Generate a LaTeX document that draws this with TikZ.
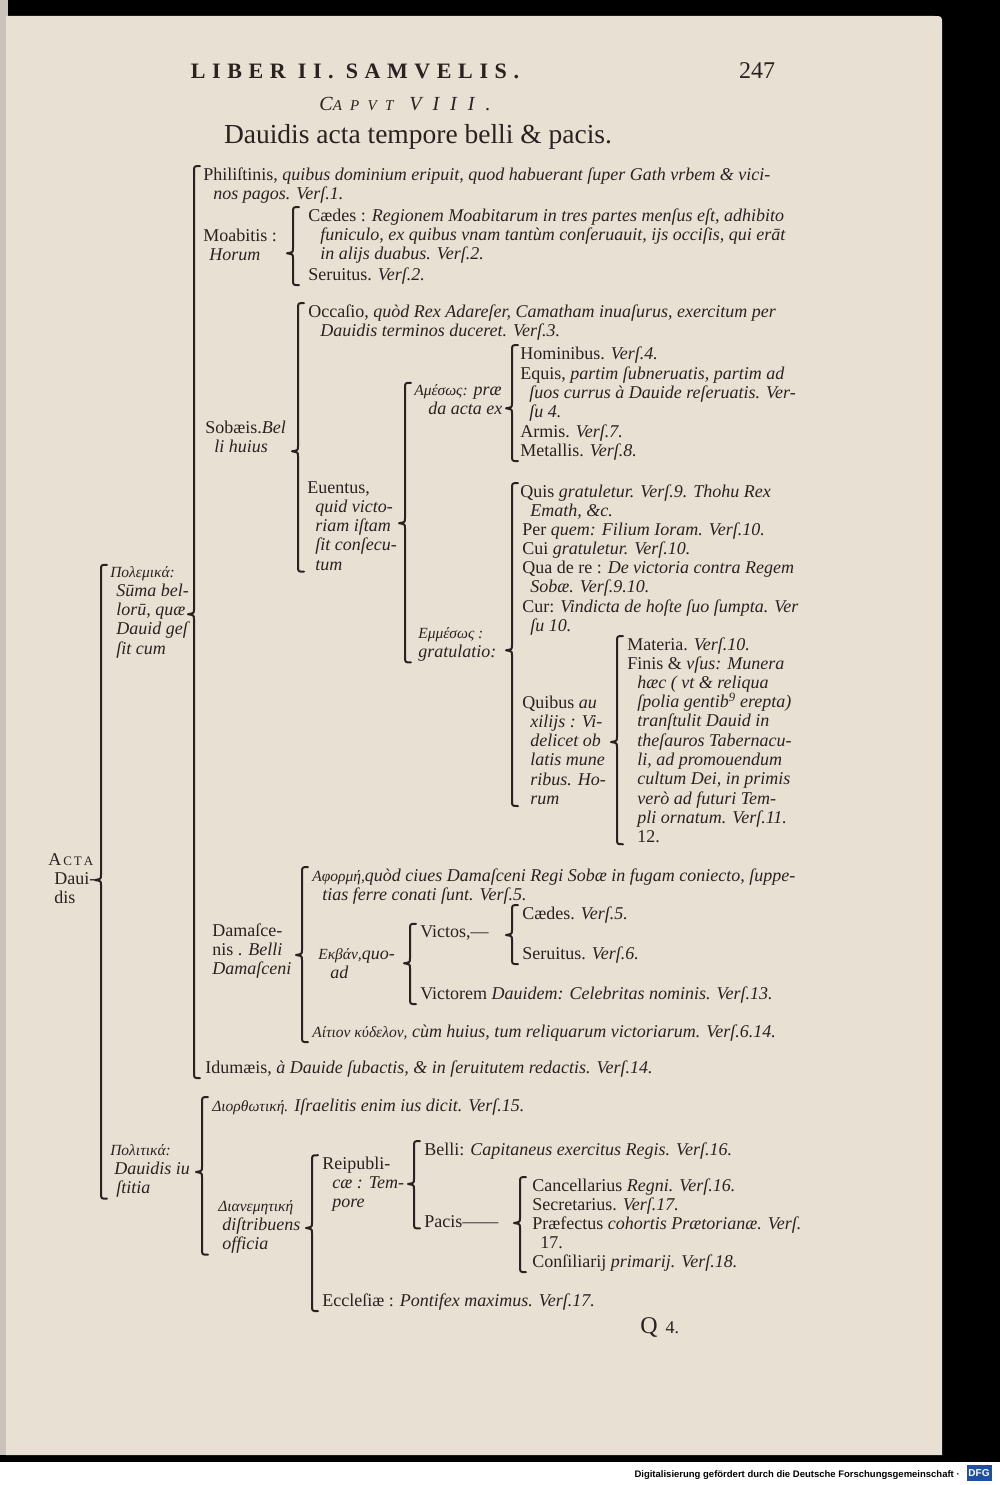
\documentclass[tikz,border=0pt]{standalone}
\usepackage{fontspec}
\setmainfont{Liberation Serif}
\newfontfamily\spaced{Liberation Serif}[LetterSpace=30]
\newfontfamily\capfont{Liberation Serif}[LetterSpace=55]
\newfontfamily\dfgfont{Liberation Sans}
\usetikzlibrary{calc,positioning}
\definecolor{paper}{HTML}{E8E0D3}
\definecolor{ink}{HTML}{2A221F}
\definecolor{dfgblue}{HTML}{1F4FA0}
% small greek words
\newcommand{\gr}[1]{{\fontsize{15.5}{19}\selectfont\itshape #1}}
% bracket: parent, first child, last child, gap, tip shift (from parent's last line)
\newcommand{\brak}[5]{%
  \draw[brk] let \p1=(#2.north west), \p2=(#3.south west), \p3=(#1.base),
      \n1={\x1-#4}, \n2={\y3+(#5)} in
    (\n1+6,\y1+1) .. controls (\n1,\y1+1) .. (\n1,\y1-5)
    -- (\n1,\n2+5) .. controls (\n1,\n2+1) .. (\n1-6,\n2)
    .. controls (\n1,\n2-1) .. (\n1,\n2-5)
    -- (\n1,\y2+5) .. controls (\n1,\y2-1) .. (\n1+6,\y2-1);}

\begin{document}
\begin{tikzpicture}[x=1pt, y=1pt, semithick]
        \tikzstyle{txt}=[anchor=base west, inner sep=0pt, align=left, text=ink, font=\fontsize{18}{19.3}\selectfont]
        \tikzstyle{brk}=[draw=ink, line width=2pt, line cap=round, line join=round]
        % page
        \useasboundingbox (0,0) rectangle (1000,-1485);
        \fill[black] (0,0) rectangle (1000,-1485);
        \fill[white] (0,-1462) rectangle (1000,-1485);
        \fill[paper!70!gray] (0,0) rectangle (8,-1455);
        \fill[paper] (6,-16) -- (934,-16) .. controls (942,-16) .. (942,-24) -- (942,-1455) -- (6,-1455) -- cycle;

        % head
        \node[txt, anchor=base] (liber) at (355,-79) {\spaced\bfseries\fontsize{22}{22}\selectfont LIBER II. SAMVELIS.};
        \node[txt, anchor=base] (page) at (757,-79) {\fontsize{24}{24}\selectfont 247};
        \node[txt, anchor=base] (caput) at (405,-111) {\capfont\itshape\fontsize{20}{20}\selectfont C{\fontsize{15}{15}\selectfont APVT} VIII.};
        \node[txt, anchor=base] (title) at (418,-143) {\fontsize{27.5}{27.5}\selectfont Dauidis acta tempore belli \& pacis.};

        % root (nodes sit on their last line)
        \node[txt] (acta) at (48,-903.6) {A\hspace{2pt}{\fontsize{13}{13}\selectfont C\hspace{2pt}T\hspace{2pt}A}\\\hspace*{6pt}Daui-\\\hspace*{6pt}dis};
        \node[txt] (pol) at (110,-654.2) {\gr{Πολεμικά:}\\\hspace*{6pt}\textit{Sūma bel-}\\\hspace*{6pt}\textit{lorū, quæ}\\\hspace*{6pt}\textit{Dauid geſ}\\\hspace*{6pt}\textit{ſit cum}};
        \node[txt] (pit) at (110,-1193.6) {\gr{Πολιτικά:}\\\hspace*{4pt}\textit{Dauidis iu}\\\hspace*{6pt}\textit{ſtitia}};

        % bella
        \node[txt] (phil) at (203,-199.3) {Philiſtinis, \textit{quibus dominium eripuit, quod habuerant ſuper Gath vrbem \& vici-}\\\hspace*{10pt}\textit{nos pagos. Verſ.1.}};
        \node[txt] (moab) at (203,-260.3) {Moabitis :\\\hspace*{6pt}\textit{Horum}};
        \node[txt] (caed1) at (308,-259.6) {Cædes : \textit{Regionem Moabitarum in tres partes menſus eſt, adhibito}\\\hspace*{12pt}\textit{funiculo, ex quibus vnam tantùm conſeruauit, ijs occiſis, qui erāt}\\\hspace*{12pt}\textit{in alijs duabus. Verſ.2.}};
        \node[txt] (seru1) at (308,-280) {Seruitus. \textit{Verſ.2.}};

        \node[txt] (sob) at (205,-452.3) {Sobæis.\textit{Bel}\\\hspace*{9pt}\textit{li huius}};
        \node[txt] (occ) at (308,-336.3) {Occaſio, \textit{quòd Rex Adareſer, Camatham inuaſurus, exercitum per}\\\hspace*{12pt}\textit{Dauidis terminos duceret. Verſ.3.}};
        \node[txt] (euen) at (307,-570.2) {Euentus,\\\hspace*{8pt}\textit{quid victo-}\\\hspace*{8pt}\textit{riam iſtam}\\\hspace*{8pt}\textit{ſit conſecu-}\\\hspace*{8pt}\textit{tum}};
        \node[txt] (ames) at (414,-414.3) {\gr{Αμέσως:} \textit{præ}\\\hspace*{14pt}\textit{da acta ex}};
        \node[txt] (homi) at (520,-359) {Hominibus. \textit{Verſ.4.}};
        \node[txt] (equi) at (520,-417.6) {Equis, \textit{partim ſubneruatis, partim ad}\\\hspace*{9pt}\textit{ſuos currus à Dauide reſeruatis. Ver-}\\\hspace*{9pt}\textit{ſu 4.}};
        \node[txt] (armi) at (520,-437) {Armis. \textit{Verſ.7.}};
        \node[txt] (meta) at (520,-456) {Metallis. \textit{Verſ.8.}};

        \node[txt] (emm) at (418,-657.3) {\gr{Εμμέσως :}\\\textit{gratulatio:}};
        \node[txt] (quis) at (520,-516.3) {Quis \textit{gratuletur. Verſ.9. Thohu Rex}\\\hspace*{10pt}\textit{Emath, \&c.}};
        \node[txt] (perq) at (522,-535) {Per \textit{quem: Filium Ioram. Verſ.10.}};
        \node[txt] (cui) at (522,-554) {Cui \textit{gratuletur. Verſ.10.}};
        \node[txt] (qua) at (522,-592.3) {Qua de re : \textit{De victoria contra Regem}\\\hspace*{8pt}\textit{Sobæ. Verſ.9.10.}};
        \node[txt] (cur) at (522,-631.3) {Cur: \textit{Vindicta de hoſte ſuo ſumpta. Ver}\\\hspace*{8pt}\textit{ſu 10.}};
        \node[txt] (quib) at (522,-804.5) {Quibus \textit{au}\\\hspace*{8pt}\textit{xilijs : Vi-}\\\hspace*{8pt}\textit{delicet ob}\\\hspace*{8pt}\textit{latis mune}\\\hspace*{8pt}\textit{ribus. Ho-}\\\hspace*{8pt}\textit{rum}};
        \node[txt] (mate) at (627,-650) {Materia. \textit{Verſ.10.}};
        \node[txt] (fini) at (627,-842.7) {Finis \& \textit{vſus: Munera}\\\hspace*{10pt}\textit{hæc ( vt \& reliqua}\\\hspace*{10pt}\textit{ſpolia gentib\textsuperscript{9} erepta)}\\\hspace*{10pt}\textit{tranſtulit Dauid in}\\\hspace*{10pt}\textit{theſauros Tabernacu-}\\\hspace*{10pt}\textit{li, ad promouendum}\\\hspace*{10pt}\textit{cultum Dei, in primis}\\\hspace*{10pt}\textit{verò ad futuri Tem-}\\\hspace*{10pt}\textit{pli ornatum. Verſ.11.}\\\hspace*{10pt}12.};

        \node[txt] (dama) at (212,-974.6) {Damaſce-\\nis . \textit{Belli}\\\textit{Damaſceni}};
        \node[txt] (afor) at (312,-900.3) {\gr{Αφορμή,}\textit{quòd ciues Damaſceni Regi Sobæ in fugam coniecto, ſuppe-}\\\hspace*{10pt}\textit{tias ferre conati ſunt. Verſ.5.}};
        \node[txt] (ekb) at (318,-978.3) {\gr{Εκβάν,}\textit{quo-}\\\hspace*{12pt}\textit{ad}};
        \node[txt] (vict) at (420,-937) {Victos,—};
        \node[txt] (caed2) at (522,-919) {Cædes. \textit{Verſ.5.}};
        \node[txt] (seru2) at (522,-959) {Seruitus. \textit{Verſ.6.}};
        \node[txt] (vtor) at (420,-999) {Victorem \textit{Dauidem: Celebritas nominis. Verſ.13.}};
        \node[txt] (aiti) at (312,-1037) {\gr{Αίτιον κύδελον,} \textit{cùm huius, tum reliquarum victoriarum. Verſ.6.14.}};
        \node[txt] (idu) at (205,-1073) {Idumæis, \textit{à Dauide ſubactis, \& in ſeruitutem redactis. Verſ.14.}};

        % pax
        \node[txt] (dior) at (212,-1111) {\gr{Διορθωτική.} \textit{Iſraelitis enim ius dicit. Verſ.15.}};
        \node[txt] (dian) at (218,-1249.6) {\gr{Διανεμητική}\\\hspace*{4pt}\textit{diſtribuens}\\\hspace*{4pt}\textit{officia}};
        \node[txt] (reip) at (322,-1207.6) {Reipubli-\\\hspace*{10pt}\textit{cæ : Tem-}\\\hspace*{10pt}\textit{pore}};
        \node[txt] (bell) at (424,-1155) {Belli: \textit{Capitaneus exercitus Regis. Verſ.16.}};
        \node[txt] (paci) at (424,-1227) {Pacis——};
        \node[txt] (canc) at (532,-1191) {Cancellarius \textit{Regni. Verſ.16.}};
        \node[txt] (secr) at (532,-1210) {Secretarius. \textit{Verſ.17.}};
        \node[txt] (praef) at (532,-1248.3) {Præfectus \textit{cohortis Prætorianæ. Verſ.}\\\hspace*{8pt}17.};
        \node[txt] (cons) at (532,-1267) {Conſiliarij \textit{primarij. Verſ.18.}};
        \node[txt] (eccl) at (322,-1306) {Eccleſiæ : \textit{Pontifex maximus. Verſ.17.}};

        \node[txt] (sig) at (640,-1333) {{\fontsize{24}{24}\selectfont Q}\hspace{8pt}4.};

        % brackets
        \brak{acta}{pol}{pit}{9}{23.6}
        \brak{pol}{phil}{idu}{9}{40}
        \brak{moab}{caed1}{seru1}{15}{7}
        \brak{sob}{occ}{euen}{10}{1}
        \brak{euen}{ames}{emm}{9}{47}
        \brak{ames}{homi}{meta}{8}{6}
        \brak{emm}{quis}{quib}{8}{7}
        \brak{quib}{mate}{fini}{10}{62.5}
        \brak{dama}{afor}{aiti}{10}{19.6}
        \brak{ekb}{vict}{vtor}{10}{15}
        \brak{vict}{caed2}{seru2}{10}{2}
        \brak{pit}{dior}{dian}{10}{21.6}
        \brak{dian}{reip}{eccl}{10}{21.6}
        \brak{reip}{bell}{paci}{10}{23.6}
        \brak{paci}{canc}{cons}{12}{4}

        % footer
        \node[anchor=base east, inner sep=0pt, font=\dfgfont\bfseries\fontsize{9.5}{10}\selectfont] (dfgtxt) at (960,-1477) {Digitalisierung gefördert durch die Deutsche Forschungsgemeinschaft ·};
        \node[fill=dfgblue, text=white, inner sep=0pt, minimum width=25pt, minimum height=16pt, font=\dfgfont\bfseries\fontsize{10}{10}\selectfont] (dfg) at (979,-1473) {DFG};
    \end{tikzpicture}
\end{document}
